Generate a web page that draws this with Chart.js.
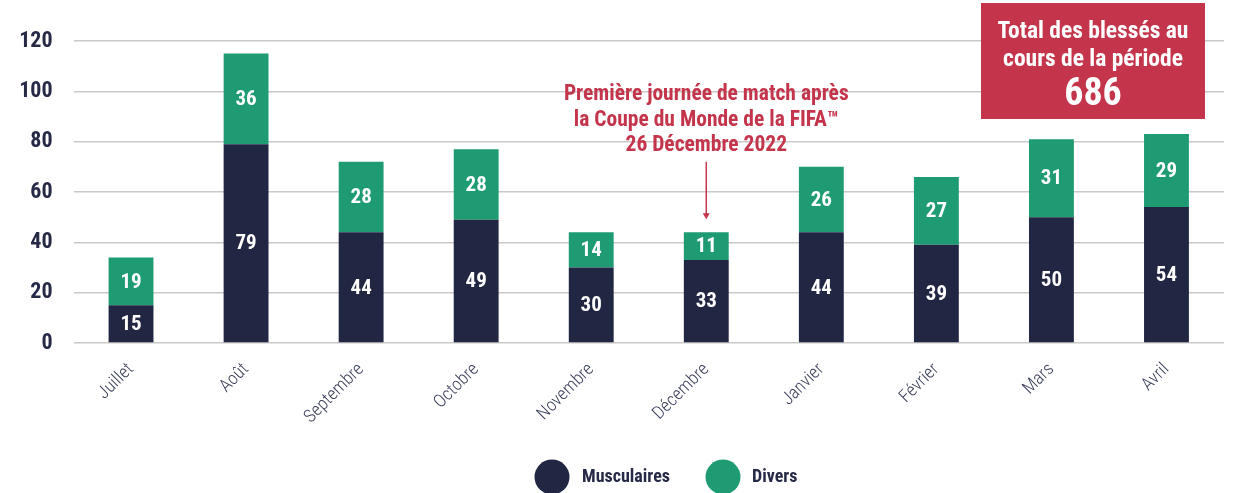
<!DOCTYPE html>
<html>
<head>
<meta charset="utf-8">
<script src="https://cdn.jsdelivr.net/npm/chart.js@4/dist/chart.umd.min.js"></script>
<style>
  html, body { margin: 0; padding: 0; background: #fff; }
  #wrap { width: 1237px; height: 493px; }
</style>
</head>
<body>
<div id="wrap"><canvas id="chart"></canvas></div>
<script>
const months = ["Juillet", "Août", "Septembre", "Octobre", "Novembre", "Décembre", "Janvier", "Février", "Mars", "Avril"];
const musculaires = [15, 79, 44, 49, 30, 33, 44, 39, 50, 54];
const divers = [19, 36, 28, 28, 14, 11, 26, 27, 31, 29];
const yTicks = [0, 20, 40, 60, 80, 100, 120];
const totalLines = ["Total des blessés au", "cours de la période"];
const totalValue = "686";
const noteLines = ["Première journée de match après", "la Coupe du Monde de la FIFA™", "26 Décembre 2022"];
const noteIndex = 5;

const FAMILY = "'Roboto Condensed', 'Liberation Sans Narrow', 'DejaVu Sans Condensed', 'Noto Sans', sans-serif";
const NAVY = "#212642";
const GREEN = "#1f9b74";
const RED = "#c4344a";
const TEXT = "#262a47";

function font(size, weight) {
    return `${weight} condensed ${size}px ${FAMILY}`;
}

const extras = {
    id: "extras",
    afterDatasetsDraw(chart) {
        const ctx = chart.ctx;
        ctx.save();
        ctx.fillStyle = "#fff";
        ctx.textAlign = "center";
        ctx.textBaseline = "middle";
        ctx.font = font(21, "bold");
        chart.data.datasets.forEach((ds, i) => {
            chart.getDatasetMeta(i).data.forEach((bar, j) => {
                let { x, y, base } = bar.getProps(["x", "y", "base"], true);
                ctx.fillText(ds.data[j], x, (y + base) / 2 + 1);
            });
        });
        ctx.restore();
    },
    afterDraw(chart) {
        const ctx = chart.ctx;
        const { x, y } = chart.scales;
        const area = chart.chartArea;
        ctx.save();

        // annotation above Décembre
        let ax = x.getPixelForValue(noteIndex);
        let barTop = y.getPixelForValue(musculaires[noteIndex] + divers[noteIndex]);
        let arrowTop = y.getPixelForValue(72);
        let arrowBottom = barTop - 13;
        ctx.strokeStyle = RED;
        ctx.fillStyle = RED;
        ctx.lineWidth = 1.5;
        ctx.beginPath();
        ctx.moveTo(ax, arrowTop);
        ctx.lineTo(ax, arrowBottom - 4);
        ctx.stroke();
        ctx.beginPath();
        ctx.moveTo(ax - 3.5, arrowBottom - 6);
        ctx.lineTo(ax + 3.5, arrowBottom - 6);
        ctx.lineTo(ax, arrowBottom);
        ctx.closePath();
        ctx.fill();
        ctx.textAlign = "center";
        ctx.textBaseline = "middle";
        ctx.font = font(21.5, "bold");
        noteLines.forEach((line, k) => {
            ctx.fillText(line, ax, arrowTop - 67 + k * 25.5);
        });

        // total box
        let bx = area.right - 243, bw = 224, by = 3, bh = 116;
        ctx.fillStyle = RED;
        ctx.fillRect(bx, by, bw, bh);
        ctx.fillStyle = "#fff";
        ctx.font = font(23.5, "bold");
        totalLines.forEach((line, k) => {
            ctx.fillText(line, bx + bw / 2, by + 29 + k * 28);
        });
        ctx.font = font(38, "bold");
        ctx.fillText(totalValue, bx + bw / 2, by + 92);

        // legend
        let ly = 477;
        let items = [
            { label: chart.data.datasets[0].label, color: NAVY, cx: 552, tx: 582 },
            { label: chart.data.datasets[1].label, color: GREEN, cx: 723, tx: 752 },
        ];
        ctx.textAlign = "left";
        ctx.font = font(18, "bold");
        items.forEach((it) => {
            ctx.fillStyle = it.color;
            ctx.beginPath();
            ctx.arc(it.cx, ly, 17.5, 0, Math.PI * 2);
            ctx.fill();
            ctx.fillStyle = TEXT;
            ctx.fillText(it.label, it.tx, ly);
        });
        ctx.restore();
    },
};

new Chart(document.getElementById("chart"), {
    type: "bar",
    data: {
        labels: months,
        datasets: [
            {
                label: "Musculaires",
                data: musculaires,
                backgroundColor: NAVY,
                barPercentage: 0.39,
                categoryPercentage: 1,
            },
            {
                label: "Divers",
                data: divers,
                backgroundColor: GREEN,
                barPercentage: 0.39,
                categoryPercentage: 1,
            },
        ],
    },
    options: {
        responsive: true,
        maintainAspectRatio: false,
        animation: false,
        layout: { padding: { top: 41, right: 13, bottom: 0, left: 0 } },
        plugins: {
            legend: { display: false },
            tooltip: { enabled: false },
        },
        scales: {
            x: {
                stacked: true,
                grid: { display: false },
                border: { display: false },
                afterFit(scale) { scale.height = 150; },
                ticks: {
                    color: "#3a3f5a",
                    maxRotation: 45,
                    minRotation: 45,
                    padding: 8,
                    font: { family: FAMILY, size: 18, weight: "300 condensed" },
                },
            },
            y: {
                stacked: true,
                min: 0,
                max: 120,
                afterFit(scale) { scale.width = 73.5; },
                afterBuildTicks(scale) { scale.ticks = yTicks.map((v) => ({ value: v })); },
                grid: { color: "#c9c9c9", lineWidth: 1.5, drawTicks: false },
                border: { display: false },
                ticks: {
                    color: TEXT,
                    padding: 21,
                    font: { family: FAMILY, size: 22, weight: "bold condensed" },
                },
            },
        },
    },
    plugins: [extras],
});
</script>
</body>
</html>
